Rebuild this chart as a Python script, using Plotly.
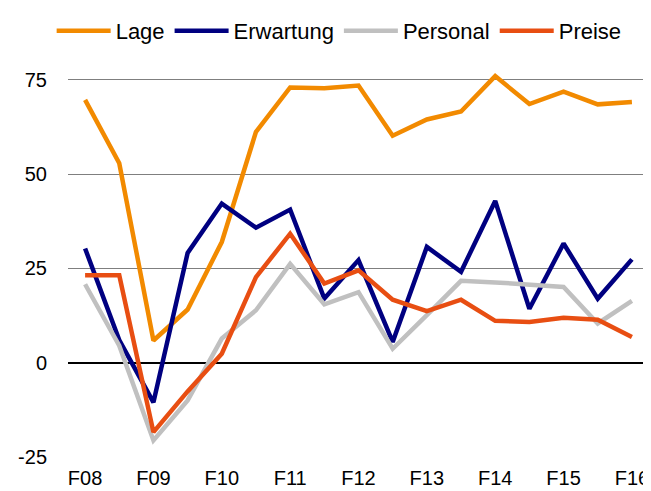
import plotly.graph_objects as go

periods = ["F08", "H08", "F09", "H09", "F10", "H10", "F11", "H11", "F12",
           "H12", "F13", "H13", "F14", "H14", "F15", "H15", "F16"]
tick_labels = ["F08", "F09", "F10", "F11", "F12", "F13", "F14", "F15", "F16"]
y_ticks = [-25, 0, 25, 50, 75]

lage = [69.7, 52.9, 5.9, 14.1, 32.0, 61.2, 73.0, 72.8, 73.5, 60.2, 64.5, 66.6, 76.0, 68.6, 71.9, 68.5, 69.1]
erwartung = [30.3, 6.0, -10.5, 29.1, 42.2, 35.8, 40.6, 17.0, 27.2, 5.5, 30.7, 24.1, 42.9, 14.3, 31.6, 17.0, 27.4]
personal = [20.8, 4.5, -20.6, -10.0, 6.4, 13.9, 26.2, 15.5, 18.7, 3.7, 12.6, 21.7, 21.3, 20.8, 20.1, 10.4, 16.4]
preise = [23.2, 23.2, -18.4, -7.6, 2.4, 22.7, 34.2, 21.0, 24.5, 16.7, 13.7, 16.7, 11.1, 10.8, 11.9, 11.4, 6.8]

series = [
    ("Lage", lage, "#F28A00"),
    ("Erwartung", erwartung, "#000080"),
    ("Personal", personal, "#C0C0C0"),
    ("Preise", preise, "#E84E12"),
]

fig = go.Figure()
for name, values, color in series:
    fig.add_trace(go.Scatter(x=periods, y=values, mode="lines", name=name,
                             line={"color": color, "width": 4.5}))

# the page body adds an 8px margin, so the figure is drawn 8px smaller
fig.update_layout(
    width=643,
    height=483,
    margin={"l": 60, "r": 2, "t": 53, "b": 34},
    plot_bgcolor="white",
    paper_bgcolor="white",
    font={"family": "Liberation Sans, Arial, sans-serif", "size": 20, "color": "black"},
    legend={"orientation": "h", "x": 0.515, "xref": "container", "xanchor": "center",
            "y": 1 - 23 / 483, "yref": "container", "yanchor": "middle",
            "font": {"size": 22}, "itemwidth": 54, "tracegroupgap": 0},
    showlegend=True,
)
fig.update_xaxes(
    type="category",
    range=[-0.5, 16.5],
    tickmode="array",
    tickvals=tick_labels,
    ticktext=tick_labels,
    showgrid=False,
    showline=False,
    ticks="outside",
    ticklen=3,
    tickcolor="rgba(0,0,0,0)",
)
fig.update_yaxes(
    range=[-25, 80],
    tickmode="array",
    tickvals=y_ticks,
    ticktext=[str(v) for v in y_ticks],
    showgrid=True,
    gridcolor="#7f7f7f",
    gridwidth=1,
    zeroline=True,
    zerolinecolor="black",
    zerolinewidth=1.5,
    ticks="outside",
    ticklen=16,
    tickcolor="rgba(0,0,0,0)",
)

fig.write_html("out.html")
